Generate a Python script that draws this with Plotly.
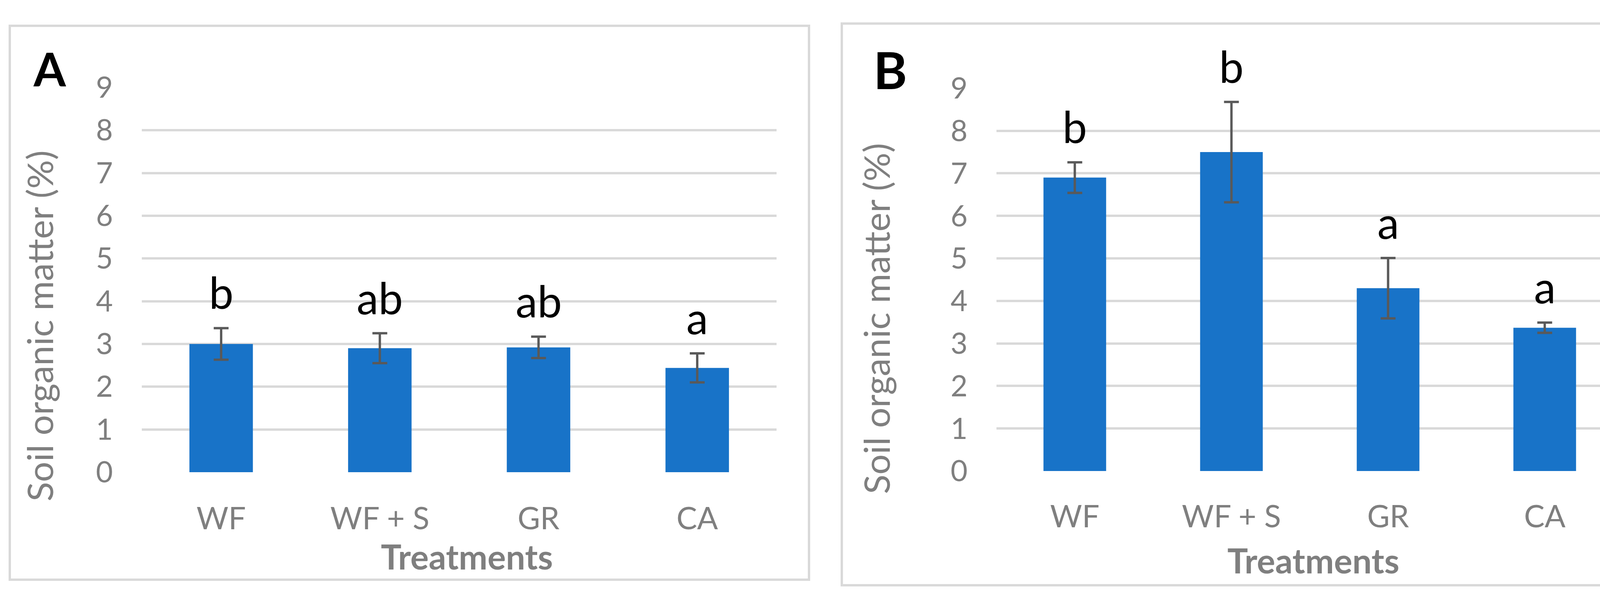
import plotly.graph_objects as go

# ---------------- data ----------------
categories = ["WF", "WF + S", "GR", "CA"]
som_a = [3.00, 2.90, 2.92, 2.44]
err_a = [0.37, 0.35, 0.25, 0.34]
sig_a = ["b", "ab", "ab", "a"]
som_b = [6.90, 7.50, 4.30, 3.37]
err_b = [0.36, 1.18, 0.71, 0.12]
sig_b = ["b", "b", "a", "a"]
y_ticks = [0, 1, 2, 3, 4, 5, 6, 7, 8, 9]
panel_letters = ["A", "B"]
y_title = "Soil organic matter (%)"
x_title = "Treatments"

# ---------------- layout helpers ----------------
W, H = 4277, 1558
def px(x):
    return x / W
def py(y):
    return 1 - y / H

FONT = "Lato"
GRAY = "#7F7F7F"
GRID = "#D9D9D9"
BAR = "#1873C8"
ERR = "#595959"

fig = go.Figure()

panels = [
    dict(vals=som_a, errs=err_a, sig=sig_a, xa="x", ya="y",
         xdom=(363, 1988), ydom=(1231, 186.7), xstand=66,
         box=(25, 19, 2071, 1523), letter=panel_letters[0], lpos=(127, 186), lsize=119,
         ytitle=(101, 834), xtitle=(1195, 1401)),
    dict(vals=som_b, errs=err_b, sig=sig_b, xa="x2", ya="y2",
         xdom=(2551, 4155), ydom=(1228, 188.8), xstand=64,
         box=(2155, 13, 4253, 1538), letter=panel_letters[1], lpos=(2279, 194), lsize=131,
         ytitle=(2243, 814), xtitle=(3362, 1412)),
]

annotations = []
shapes = []
for i, p in enumerate(panels):
    fig.add_trace(go.Bar(
        x=categories, y=p["vals"], width=0.4,
        marker=dict(color=BAR, line=dict(width=0)),
        error_y=dict(type="data", array=p["errs"], visible=True,
                     color=ERR, thickness=6, width=19),
        xaxis=p["xa"], yaxis=p["ya"], showlegend=False,
    ))
    sfx = "" if i == 0 else "2"
    fig.update_layout(**{
        "xaxis" + sfx: dict(
            domain=[px(p["xdom"][0]), px(p["xdom"][1])],
            anchor="y" + sfx, showgrid=False, zeroline=False, showline=False,
            ticks="", ticklabelstandoff=p["xstand"],
            tickfont=dict(family=FONT, size=79, color=GRAY),
        ),
        "yaxis" + sfx: dict(
            domain=[py(p["ydom"][0]), py(p["ydom"][1])],
            anchor="x" + sfx, range=[0, 9], tickvals=y_ticks,
            showgrid=True, gridcolor=GRID, gridwidth=6,
            zeroline=False, showline=False, ticks="", ticklabelstandoff=73,
            tickfont=dict(family=FONT, size=75, color=GRAY),
        ),
    })
    # significance letters
    for c, v, e, s in zip(categories, p["vals"], p["errs"], p["sig"]):
        annotations.append(dict(
            x=c, y=v + e, xref=p["xa"], yref=p["ya"], text=s, showarrow=False,
            yanchor="bottom", yshift=23,
            font=dict(family=FONT, size=112, color="black"),
        ))
    # panel letter
    annotations.append(dict(
        x=px(p["lpos"][0]), y=py(p["lpos"][1] + 0.213 * p["lsize"] + 1),
        xref="paper", yref="paper", text="<b>%s</b>" % p["letter"], showarrow=False,
        xanchor="center", yanchor="bottom",
        font=dict(family=FONT, size=p["lsize"], color="black"),
    ))
    # y title
    annotations.append(dict(
        x=px(p["ytitle"][0]), y=py(p["ytitle"][1]), xref="paper", yref="paper",
        text=y_title, textangle=-90, showarrow=False,
        xanchor="center", yanchor="middle",
        font=dict(family=FONT, size=92, color=GRAY),
    ))
    # x title
    annotations.append(dict(
        x=px(p["xtitle"][0]), y=py(p["xtitle"][1]), xref="paper", yref="paper",
        text="<b>%s</b>" % x_title, showarrow=False,
        xanchor="center", yanchor="top",
        font=dict(family=FONT, size=88, color=GRAY),
    ))
    # panel border
    x0, y0, x1, y1 = p["box"]
    shapes.append(dict(type="rect", xref="paper", yref="paper",
                       x0=px(x0), x1=px(x1), y0=py(y0), y1=py(y1),
                       line=dict(color=GRID, width=6), fillcolor="rgba(0,0,0,0)"))

fig.update_layout(
    width=W, height=H, margin=dict(l=0, r=0, t=0, b=0),
    paper_bgcolor="white", plot_bgcolor="white",
    annotations=annotations, shapes=shapes, showlegend=False,
    font=dict(family=FONT),
)

fig.write_html("out.html", config={"displayModeBar": False},
               post_script="document.body.style.margin='0';")
